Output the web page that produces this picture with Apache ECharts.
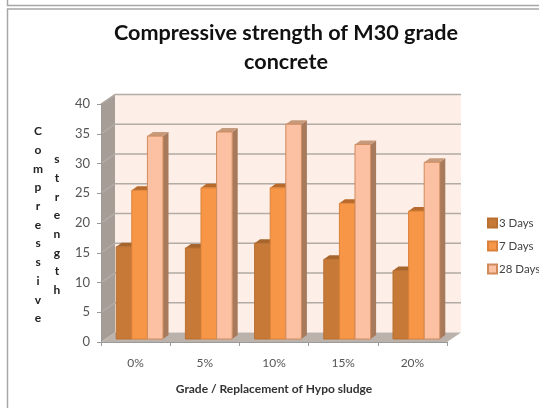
<!DOCTYPE html>
<html><head><meta charset="utf-8">
<style>html,body{margin:0;padding:0;background:#fff;overflow:hidden}#c{width:539px;height:408px;filter:blur(0.45px)}</style>
<script src="https://cdn.jsdelivr.net/npm/echarts@6/dist/echarts.min.js"></script>
</head><body><div id="c"></div>
<script>
const categories = ['0%','5%','10%','15%','20%'];
const days3 = [15.5,15.3,16.1,13.4,11.5];
const days7 = [25.0,25.4,25.4,22.8,21.5];
const days28 = [34.1,34.8,36.1,32.7,29.7];
const yTicks = [0,5,10,15,20,25,30,35,40];
const FONT = 'Lato, "Open Sans", sans-serif';
const WALL = {dx:14, dy:-9.5};
const BASE = {dx:4, dy:-3};
const DEPTH = {dx:5.5, dy:-4};
const BAR_W = 15.6;

function renderWalls(params, api){
  const cs = params.coordSys, L = cs.x, R = cs.x+cs.width, B = cs.y+cs.height, T = cs.y;
  const c = [];
  const poly = (pts, fill)=>c.push({type:'polygon',shape:{points:pts},style:{fill:fill,stroke:null}});
  poly([[L+WALL.dx,T+WALL.dy],[R+WALL.dx,T+WALL.dy],[R+WALL.dx,B+WALL.dy],[L+WALL.dx,B+WALL.dy]],'#fdefe7');
  poly([[L,T],[L+WALL.dx,T+WALL.dy],[L+WALL.dx,B+WALL.dy],[L,B]],'#a69d97');
  poly([[L,B],[L+WALL.dx,B+WALL.dy],[R+WALL.dx,B+WALL.dy],[R,B]],'#bbb2ac');
  yTicks.forEach(v=>{
    const y = api.coord([0,v])[1];
    if(v>0) c.push({type:'polyline',shape:{points:[[L,y],[L+WALL.dx,y+WALL.dy],[R+WALL.dx,y+WALL.dy]]},style:{fill:null,stroke:'#b3aba5',lineWidth:1.5}});
  });
  return {type:'group',children:c};
}
function make3d(name, values, idx, face, stroke, top, side){
  return {
    name, type:'custom', z:3, clip:false,
    itemStyle:{color:face, borderColor:stroke, borderWidth:1},
    encode:{x:0,y:1},
    data: values.map((v,i)=>[i,v]),
    renderItem(params, api){
      const p = api.coord([api.value(0),api.value(1)]);
      const b = api.coord([api.value(0),0]);
      const x0 = p[0]+BASE.dx+(idx-1.5)*BAR_W, x1 = x0+BAR_W;
      const yT = p[1]+BASE.dy, yB = b[1]+BASE.dy;
      const d = DEPTH;
      return {type:'group',children:[
        {type:'polygon',shape:{points:[[x1,yT],[x1+d.dx,yT+d.dy],[x1+d.dx,yB+d.dy],[x1,yB]]},style:{fill:side,stroke:null}},
        {type:'polygon',shape:{points:[[x0,yT],[x0+d.dx,yT+d.dy],[x1+d.dx,yT+d.dy],[x1,yT]]},style:{fill:top,stroke:null}},
        {type:'rect',shape:{x:x0,y:yT,width:BAR_W,height:yB-yT},style:{fill:face,stroke:stroke,lineWidth:1}}
      ]};
    }
  };
}
const chart = echarts.init(document.getElementById('c'),null,{renderer:'canvas'});
chart.setOption({
  animation:false,
  backgroundColor:'#fff',
  title:{text:'Compressive strength of M30 grade\nconcrete',left:281,top:14,textAlign:'center',
    textStyle:{fontFamily:FONT,fontSize:21.6,fontWeight:'bold',color:'#111',lineHeight:29}},
  legend:{orient:'vertical',left:482,top:212,itemWidth:9,itemHeight:9,itemGap:11,icon:'rect',
    data:['3 Days','7 Days','28 Days'],
    textStyle:{fontFamily:FONT,fontSize:11.5,color:'#444',padding:[0,0,0,-3]}},
  grid:{left:101,right:92,top:104,bottom:66},
  xAxis:{type:'category',data:categories,z:2,
    axisLine:{lineStyle:{color:'#9a9a9a',width:1}},
    axisTick:{show:true,alignWithLabel:false,length:4,lineStyle:{color:'#9a9a9a'}},
    axisLabel:{fontFamily:FONT,fontSize:12,color:'#555',margin:15},
    name:'Grade / Replacement of Hypo sludge',nameLocation:'middle',nameGap:41,
    nameTextStyle:{fontFamily:FONT,fontSize:12,fontWeight:'bold',color:'#333'}},
  yAxis:{type:'value',min:0,max:40,interval:5,z:2,
    axisLine:{show:true,lineStyle:{color:'#9a9a9a',width:1}},
    axisTick:{show:true,length:4,lineStyle:{color:'#9a9a9a'}},
    axisLabel:{fontFamily:FONT,fontSize:13,color:'#555',margin:11,padding:[3,0,0,0]},
    splitLine:{show:false}},
  graphic:[
    {type:'polyline',shape:{points:[[7.5,0],[7.5,5.5],[539,5.5]]},style:{fill:null,stroke:'#a6a6a6',lineWidth:1.5}},
    {type:'polyline',shape:{points:[[539,9],[7.5,9],[7.5,408]]},style:{fill:null,stroke:'#a6a6a6',lineWidth:1.5}},
    {type:'text',left:33,top:122,style:{text:'C\no\nm\np\nr\ne\ns\ns\ni\nv\ne',fontFamily:FONT,fontSize:12,fontWeight:'bold',fill:'#222',lineHeight:18.7,textAlign:'center',width:10}},
    {type:'text',left:52,top:150,style:{text:'s\nt\nr\ne\nn\ng\nt\nh',fontFamily:FONT,fontSize:12,fontWeight:'bold',fill:'#222',lineHeight:18.7,textAlign:'center',width:10}}
  ],
  series:[
    {type:'custom',name:'walls',z:1,clip:false,silent:true,data:[[0,0]],encode:{x:0,y:1},renderItem:renderWalls},
    make3d('3 Days',days3,0,'#c77a38','#b96f30','#a5652c','#a66a38'),
    make3d('7 Days',days7,1,'#f79646','#d9813a','#b86a2c','#a8703f'),
    make3d('28 Days',days28,2,'#fcc1a3','#cf8a5c','#c89a7c','#a87a5c')
  ]
});
</script></body></html>
